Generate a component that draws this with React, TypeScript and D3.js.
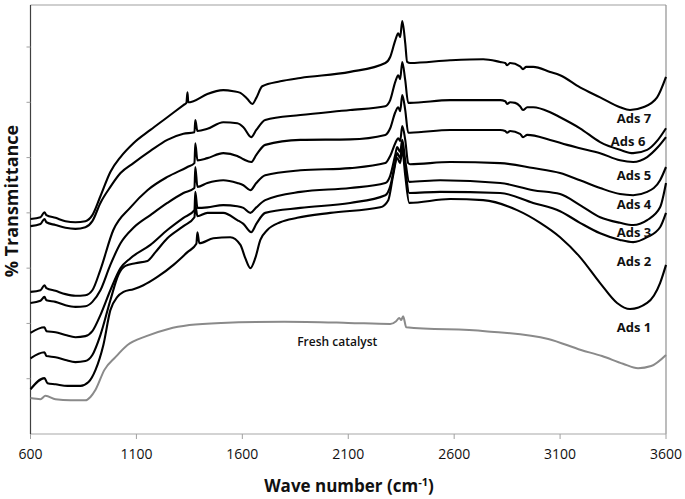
import React from "react";
import * as d3 from "d3";

type Pt = [number, number];

// Wavenumber (cm-1), % transmittance (arbitrary offset scale)
const ads7: Pt[] = [
  [600, 38.9], [647, 39.2], [666, 40.1], [675, 39.6], [718, 39.1], [765, 38.5], [812, 38.3], [859, 38.5],
  [892, 39.6], [930, 43.0], [977, 47.4], [1025, 50.1], [1086, 52.6], [1166, 55.0], [1246, 57.3], [1322, 59.5],
  [1336, 59.9], [1341, 61.8], [1345, 60.0], [1369, 60.2], [1435, 61.5], [1510, 62.2], [1558, 62.0], [1591, 61.7],
  [1624, 60.6], [1647, 59.7], [1666, 60.8], [1694, 62.9], [1779, 63.8], [1874, 64.4], [2109, 65.5], [2275, 67.1],
  [2298, 68.2], [2322, 71.2], [2336, 72.5], [2345, 71.8], [2355, 74.7], [2369, 70.7], [2378, 67.3], [2392, 67.1],
  [2581, 67.6], [2737, 67.8], [2817, 67.3], [2841, 67.1], [2850, 66.7], [2864, 67.1], [2911, 66.5], [2925, 66.0],
  [2940, 66.4], [2973, 66.4], [3053, 65.5], [3100, 64.9], [3194, 62.7], [3289, 60.9], [3383, 59.1], [3430, 58.6],
  [3492, 59.1], [3558, 60.9], [3600, 64.6],
];

const ads6: Pt[] = [
  [600, 37.6], [647, 38.0], [666, 38.9], [675, 38.3], [718, 37.8], [765, 37.3], [812, 37.1], [859, 37.4],
  [892, 38.5], [930, 41.8], [977, 44.7], [1025, 47.2], [1086, 49.0], [1166, 51.2], [1246, 53.2], [1322, 54.3],
  [1374, 54.6], [1378, 56.8], [1388, 54.8], [1435, 55.2], [1510, 56.4], [1576, 56.2], [1605, 55.5], [1642, 53.7],
  [1666, 55.0], [1708, 56.8], [1874, 57.7], [2109, 58.6], [2275, 59.3], [2298, 60.4], [2322, 63.7], [2336, 64.9],
  [2345, 64.2], [2355, 67.3], [2369, 64.0], [2383, 59.9], [2392, 59.9], [2581, 60.4], [2817, 60.4], [2841, 60.2],
  [2850, 59.7], [2864, 60.0], [2888, 59.9], [2911, 59.3], [2925, 58.6], [2945, 59.1], [2973, 59.1], [3053, 58.2],
  [3100, 57.3], [3194, 55.3], [3289, 52.8], [3383, 51.4], [3445, 50.8], [3511, 51.4], [3562, 53.2], [3600, 55.3],
];

const ads5: Pt[] = [
  [600, 25.7], [647, 26.0], [666, 26.9], [675, 26.4], [718, 25.9], [765, 25.3], [812, 25.0], [859, 25.1],
  [892, 26.0], [930, 29.7], [991, 36.9], [1072, 41.0], [1152, 44.1], [1246, 46.5], [1341, 48.3], [1374, 49.0],
  [1378, 52.6], [1388, 49.5], [1435, 49.9], [1510, 50.8], [1576, 50.3], [1605, 49.7], [1642, 49.2], [1666, 50.5],
  [1708, 52.3], [1874, 53.2], [2109, 53.3], [2275, 54.1], [2298, 55.3], [2322, 58.2], [2336, 59.1], [2345, 58.4],
  [2355, 61.3], [2369, 58.6], [2383, 54.5], [2392, 54.5], [2581, 55.0], [2817, 55.0], [2841, 54.8], [2850, 54.5],
  [2864, 54.8], [2911, 54.3], [2925, 53.7], [2945, 54.1], [3053, 53.2], [3133, 52.3], [3194, 51.7], [3289, 50.8],
  [3383, 49.5], [3445, 49.2], [3511, 50.1], [3562, 51.9], [3600, 53.7],
];

const ads4: Pt[] = [
  [600, 23.7], [647, 24.1], [666, 24.8], [675, 24.2], [718, 23.9], [765, 23.3], [812, 23.0], [859, 23.1],
  [892, 23.9], [930, 26.0], [977, 30.6], [1025, 34.5], [1086, 37.3], [1166, 39.6], [1246, 41.8], [1322, 43.6],
  [1374, 44.5], [1378, 48.3], [1388, 44.7], [1435, 45.4], [1510, 45.9], [1576, 45.4], [1605, 45.0], [1638, 44.1],
  [1666, 45.4], [1708, 46.8], [1874, 47.7], [2109, 48.1], [2275, 49.0], [2298, 50.3], [2322, 52.6], [2336, 53.5],
  [2345, 53.0], [2355, 55.7], [2369, 53.2], [2383, 49.0], [2392, 48.8], [2581, 49.2], [2817, 49.0], [2973, 48.1],
  [3100, 47.2], [3194, 45.9], [3289, 44.5], [3383, 43.4], [3445, 43.2], [3511, 43.8], [3572, 45.9], [3600, 48.3],
];

const ads3: Pt[] = [
  [600, 18.3], [666, 19.3], [675, 18.6], [718, 18.4], [765, 17.9], [812, 17.5], [859, 17.7], [892, 18.6],
  [930, 21.5], [977, 26.0], [1025, 30.0], [1072, 31.8], [1166, 34.2], [1246, 36.9], [1322, 39.1], [1374, 40.5],
  [1378, 43.8], [1388, 40.9], [1435, 41.0], [1510, 41.4], [1576, 41.2], [1605, 40.9], [1638, 40.0], [1666, 41.0],
  [1708, 42.3], [1874, 43.8], [2109, 44.5], [2275, 45.4], [2298, 46.7], [2322, 50.5], [2331, 51.9], [2345, 51.0],
  [2355, 53.2], [2369, 49.5], [2388, 45.6], [2534, 45.9], [2817, 45.4], [2973, 44.1], [3100, 43.4], [3194, 41.4],
  [3289, 39.2], [3383, 38.2], [3445, 37.8], [3511, 38.7], [3572, 41.0], [3600, 45.4],
];

const ads2: Pt[] = [
  [600, 13.7], [666, 14.8], [675, 14.1], [718, 13.9], [765, 13.4], [812, 13.0], [859, 13.2], [892, 14.3],
  [930, 17.9], [977, 24.2], [1015, 28.8], [1048, 30.4], [1095, 30.9], [1152, 31.3], [1190, 32.9], [1246, 35.4],
  [1322, 37.6], [1374, 39.2], [1378, 41.4], [1388, 39.4], [1435, 40.0], [1510, 40.0], [1576, 38.7], [1605, 38.0],
  [1642, 36.5], [1666, 38.0], [1708, 40.0], [1874, 40.9], [2109, 41.8], [2275, 43.2], [2298, 44.8], [2322, 49.2],
  [2331, 50.8], [2345, 49.9], [2355, 52.3], [2369, 48.1], [2388, 43.6], [2534, 43.8], [2817, 43.6], [2973, 41.8],
  [3100, 40.3], [3194, 38.2], [3289, 36.3], [3383, 35.1], [3445, 34.7], [3511, 35.6], [3572, 37.4], [3600, 40.0],
];

const ads1: Pt[] = [
  [600, 8.1], [666, 10.1], [680, 9.2], [718, 9.0], [775, 8.7], [836, 8.7], [874, 9.4], [907, 11.6],
  [944, 16.1], [977, 22.4], [1010, 24.8], [1039, 25.7], [1086, 26.2], [1133, 26.9], [1199, 28.4], [1275, 30.6],
  [1341, 32.9], [1383, 34.4], [1388, 36.5], [1397, 34.5], [1463, 35.4], [1543, 35.6], [1591, 34.2], [1614, 31.8],
  [1638, 30.0], [1661, 31.8], [1685, 35.1], [1718, 36.9], [1779, 38.3], [1859, 39.1], [2015, 40.0], [2251, 41.0],
  [2289, 42.3], [2312, 46.8], [2331, 49.9], [2345, 49.0], [2355, 51.4], [2369, 46.8], [2388, 41.8], [2581, 42.5],
  [2737, 42.3], [2897, 40.5], [3006, 38.2], [3100, 35.6], [3194, 32.0], [3289, 27.3], [3369, 23.7], [3430, 22.6],
  [3511, 23.7], [3572, 27.3], [3600, 30.6],
];

const fresh: Pt[] = [
  [600, 6.5], [647, 6.3], [671, 6.9], [718, 6.3], [789, 6.1], [859, 6.1], [883, 6.7], [907, 8.0],
  [949, 11.6], [1001, 13.9], [1058, 16.1], [1147, 17.7], [1251, 19.0], [1350, 19.7], [1501, 20.1], [1798, 20.3],
  [2100, 20.1], [2298, 19.9], [2326, 20.4], [2341, 21.0], [2350, 20.6], [2359, 21.3], [2374, 19.3], [2746, 18.6],
  [3044, 17.2], [3199, 15.2], [3298, 14.1], [3397, 12.7], [3468, 11.9], [3530, 12.3], [3600, 14.3],
];

const seriesNames = ["Ads 7", "Ads 6", "Ads 5", "Ads 4", "Ads 3", "Ads 2", "Ads 1"];
const seriesData = [ads7, ads6, ads5, ads4, ads3, ads2, ads1];

// label anchors (wavenumber, transmittance)
const labelNames = ["Ads 7", "Ads 6", "Ads 5", "Ads 4", "Ads 3", "Ads 2", "Ads 1", "Fresh catalyst"];
const labelWn = [3449, 3421, 3449, 3449, 3449, 3449, 3449, 2048];
const labelT = [57.0, 53.0, 46.7, 41.6, 36.5, 31.3, 19.2, 16.6];

const xTicks = [600, 1100, 1600, 2100, 2600, 3100, 3600];
const yTicks = [10, 20, 30, 40, 50, 60, 70];

const W = 685;
const H = 499;
const M = { left: 30.5, right: 666, top: 5, bottom: 434 };

export default function App() {
  const x = d3.scaleLinear().domain([600, 3600]).range([M.left, M.right]);
  const y = d3.scaleLinear().domain([0, 77.6]).range([M.bottom, M.top]);
  const line = d3
    .line<Pt>()
    .x((d) => x(d[0]))
    .y((d) => y(d[1]))
    .curve(d3.curveMonotoneX);

  const font = "'Open Sans', 'Liberation Sans', sans-serif";

  return (
    <svg
      width={W}
      height={H}
      style={{ position: "fixed", left: 0, top: 0, background: "#fff" }}
      fontFamily={font}
    >
      <rect x={0} y={0} width={W} height={H} fill="#fff" />
      {/* plot frame */}
      <line x1={M.left} x2={M.right} y1={M.top} y2={M.top} stroke="#a0a0a0" strokeWidth={1.2} />
      <line x1={M.right} x2={M.right} y1={M.top} y2={M.bottom} stroke="#909090" strokeWidth={1.2} />
      <line x1={M.left} x2={M.right} y1={M.bottom} y2={M.bottom} stroke="#a8a8a8" strokeWidth={1.2} />
      <line x1={M.left} x2={M.left} y1={M.top} y2={M.bottom} stroke="#404040" strokeWidth={1.2} />
      {/* y ticks */}
      {yTicks.map((t) => (
        <line key={"yt" + t} x1={M.left - 4} x2={M.left} y1={y(t)} y2={y(t)} stroke="#a0a0a0" strokeWidth={1} />
      ))}
      {/* x ticks */}
      {xTicks.map((t) => (
        <g key={"xt" + t}>
          <line x1={x(t)} x2={x(t)} y1={M.bottom} y2={M.bottom + 5} stroke="#a0a0a0" strokeWidth={1} />
          <text x={x(t)} y={459} textAnchor="middle" fontSize={14} fill="#111">
            {t}
          </text>
        </g>
      ))}
      {/* fresh catalyst */}
      <path d={line(fresh) || ""} fill="none" stroke="#8a8a8a" strokeWidth={2} strokeLinejoin="round" />
      {seriesData.map((s, i) => (
        <path
          key={seriesNames[i]}
          d={line(s) || ""}
          fill="none"
          stroke="#000"
          strokeWidth={2.1}
          strokeLinejoin="round"
        />
      ))}
      {labelNames.map((n, i) => (
        <text
          key={"lb" + n}
          x={x(labelWn[i])}
          y={y(labelT[i])}
          dy="0.35em"
          textAnchor="middle"
          fontSize={n === "Fresh catalyst" ? 12 : 13}
          fontWeight={n === "Fresh catalyst" ? 600 : 700}
          fill="#111"
        >
          {n}
        </text>
      ))}
      {/* axis titles */}
      <text x={349} y={492} textAnchor="middle" fontSize={17} fontWeight={700} fill="#111">
        Wave number (cm
        <tspan dy={-6} fontSize={11}>
          -1
        </tspan>
        <tspan dy={6}>)</tspan>
      </text>
      <text
        transform={`translate(18, 201) rotate(-90)`}
        textAnchor="middle"
        fontSize={18}
        fontWeight={700}
        fill="#111"
      >
        % Transmittance
      </text>
    </svg>
  );
}
